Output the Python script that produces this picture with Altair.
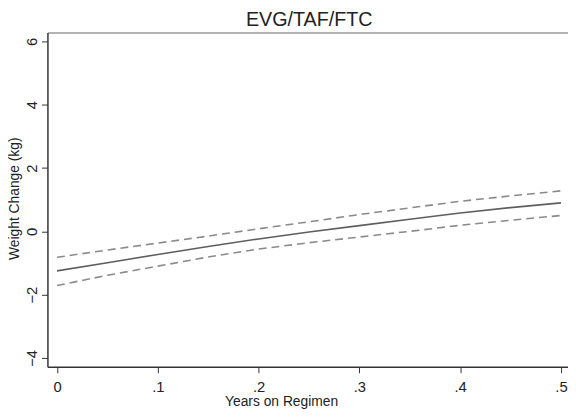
import altair as alt
import pandas as pd

years = [0.0, 0.05, 0.1, 0.15, 0.2, 0.25, 0.3, 0.35, 0.4, 0.45, 0.5]
fit = [-1.25, -0.99, -0.73, -0.48, -0.24, -0.02, 0.18, 0.38, 0.58, 0.75, 0.90]
upper = [-0.82, -0.59, -0.37, -0.15, 0.08, 0.30, 0.53, 0.74, 0.95, 1.12, 1.28]
lower = [-1.71, -1.39, -1.10, -0.81, -0.56, -0.36, -0.18, 0.00, 0.19, 0.35, 0.50]

x_ticks = [0, 0.1, 0.2, 0.3, 0.4, 0.5]
y_ticks = [-4, -2, 0, 2, 4, 6]

df = pd.DataFrame({"years": years, "fit": fit, "upper": upper, "lower": lower})

FONT = "Liberation Sans"

xscale = alt.Scale(domain=[-0.0095, 0.507], nice=False, zero=False)
yscale = alt.Scale(domain=[-4.28, 6.28], nice=False, zero=False)

yenc = alt.Y(
    "val:Q",
    scale=yscale,
    axis=alt.Axis(
        title="Weight Change (kg)",
        values=y_ticks,
        labelAngle=-90,
        labelAlign="center",
        labelBaseline="alphabetic",
        labelPadding=5,
        labelFontSize=15,
        labelFont=FONT,
        labelColor="#222222",
        tickSize=6,
        tickColor="#333333",
        domainColor="#333333",
        domainWidth=1.5,
        grid=False,
        titleFont=FONT,
        titleFontSize=14,
        titleFontWeight="normal",
        titleColor="#222222",
        titleBaseline="alphabetic",
        titleX=-29,
        titleY=168,
        titleAngle=270,
    ),
)

base = alt.Chart(df)

solid = base.transform_calculate(val="datum.fit").mark_line(
    color="#5e5e5e", strokeWidth=1.6
).encode(
    x=alt.X(
        "years:Q",
        scale=xscale,
        axis=alt.Axis(
            title="Years on Regimen",
            orient="bottom",
            values=x_ticks,
            labelExpr="datum.value == 0 ? '0' : replace(format(datum.value, '.1f'), '0.', '.')",
            labelFontSize=15,
            labelFont=FONT,
            labelColor="#222222",
            labelPadding=7,
            labelFlush=False,
            tickSize=6,
            tickColor="#333333",
            domainColor="#333333",
            domainWidth=1.5,
            grid=False,
            titleFont=FONT,
            titleFontSize=14,
            titleFontWeight="normal",
            titleColor="#222222",
            titleBaseline="alphabetic",
            titleX=237,
            titleY=39,
        ),
    ),
    y=yenc,
)

dashed = base.transform_fold(["upper", "lower"], as_=["band", "val"]).mark_line(
    color="#8a8a8a", strokeWidth=1.6, strokeDash=[8, 5]
).encode(
    x=alt.X(
        "years:Q",
        scale=xscale,
        axis=alt.Axis(
            title="EVG/TAF/FTC",
            orient="top",
            labels=False,
            ticks=False,
            grid=False,
            domainColor="#9a9a9a",
            domainWidth=1.5,
            titleFont=FONT,
            titleFontSize=20,
            titleFontWeight="normal",
            titleColor="#222222",
            titleBaseline="alphabetic",
            titleAlign="center",
            titleX=265,
            titleY=-7,
        ),
    ),
    y=yenc,
    detail="band:N",
)

chart = (
    alt.layer(solid, dashed)
    .resolve_axis(x="independent")
    .properties(
        width=528,
        height=339,
        padding={"left": 40, "top": 22, "right": 0, "bottom": 48},
        autosize=alt.AutoSizeParams(type="none"),
    )
    .configure_view(stroke=None)
)

chart.save("out.html", embed_options={"renderer": "svg", "actions": False})
